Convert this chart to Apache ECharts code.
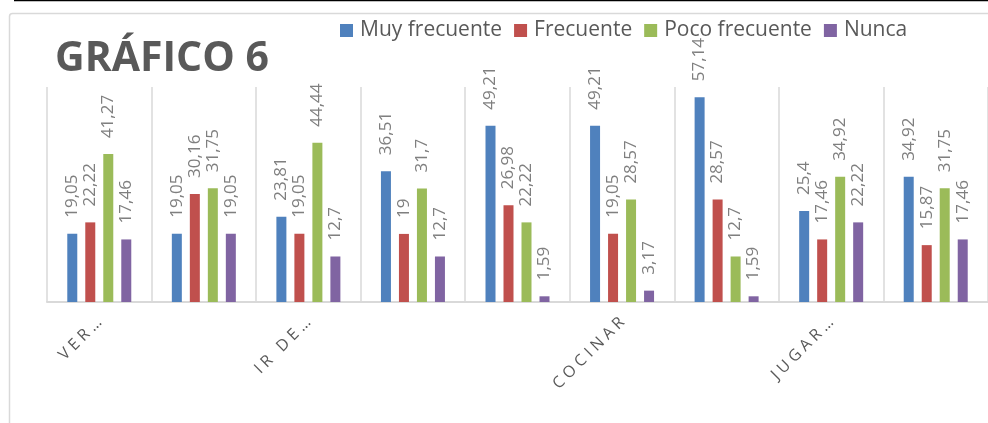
<!DOCTYPE html>
<html>
<head>
<meta charset="utf-8">
<script src="https://cdn.jsdelivr.net/npm/echarts@6/dist/echarts.min.js"></script>
<style>
  html, body { margin: 0; padding: 0; background: #fff; }
  #chart { width: 988px; height: 423px; }
</style>
</head>
<body>
<div id="chart"></div>
<script>
// categorias (solo se leen algunas en el grafico)
const categories = ['VER…', '', 'IR DE…', '', '', 'COCINAR', '', 'JUGAR…', '']
const seriesNames = ['Muy frecuente', 'Frecuente', 'Poco frecuente', 'Nunca']
const muyFrecuente = [19.05, 19.05, 23.81, 36.51, 49.21, 49.21, 57.14, 25.4, 34.92]
const frecuente = [22.22, 30.16, 19.05, 19, 26.98, 19.05, 28.57, 17.46, 15.87]
const pocoFrecuente = [41.27, 31.75, 44.44, 31.7, 22.22, 28.57, 12.7, 34.92, 31.75]
const nunca = [17.46, 19.05, 12.7, 12.7, 1.59, 3.17, 1.59, 22.22, 17.46]

const colors = ['#4f81bd', '#c0504d', '#9bbb59', '#8064a2']
const font = '"Open Sans", "DejaVu Sans", sans-serif'

function makeSeries(name, data) {
  return {
    name: name,
    type: 'bar',
    data: data,
    barWidth: 10,
    barGap: '80%',
    label: {
      show: true,
      position: 'top',
      rotate: 90,
      align: 'left',
      verticalAlign: 'middle',
      distance: 16,
      color: '#7f7f7f',
      fontFamily: font,
      fontSize: 17,
      formatter: (p) => String(p.value).replace('.', ',')
    }
  }
}

const chart = echarts.init(document.getElementById('chart'))
chart.setOption({
  animation: false,
  color: colors,
  title: {
    text: 'GRÁFICO 6',
    left: 50,
    top: 34,
    textStyle: {
      fontFamily: font,
      fontSize: 41,
      fontWeight: 'bold',
      color: '#595959'
    }
  },
  legend: {
    data: seriesNames,
    left: 335,
    top: 15,
    icon: 'rect',
    itemWidth: 13,
    itemHeight: 13,
    itemGap: 12,
    textStyle: {
      fontFamily: font,
      fontSize: 21,
      color: '#595959',
      padding: [0, 0, 0, 2]
    }
  },
  graphic: [
    {
      type: 'line',
      shape: { x1: 14, y1: 0.5, x2: 988, y2: 0.5 },
      style: { stroke: '#000', lineWidth: 1.5 }
    },
    {
      type: 'rect',
      shape: { x: 9.5, y: 13.5, width: 1000, height: 430, r: 3 },
      style: { fill: 'none', stroke: '#d9d9d9', lineWidth: 1.5 }
    }
  ],
  grid: {
    left: 47,
    top: 87,
    width: 945,
    height: 215
  },
  xAxis: {
    type: 'category',
    data: categories,
    axisLine: { lineStyle: { color: '#d9d9d9', width: 2 } },
    axisTick: { show: false },
    splitLine: { show: true, interval: 0, lineStyle: { color: '#d9d9d9', width: 1.5 } },
    axisLabel: {
      interval: 0,
      rotate: 45,
      margin: 18,
      color: '#595959',
      fontFamily: font,
      fontSize: 16,
      formatter: (v) => v.split('').join(' ')
    }
  },
  yAxis: {
    type: 'value',
    min: 0,
    max: 60,
    show: false
  },
  series: [
    makeSeries(seriesNames[0], muyFrecuente),
    makeSeries(seriesNames[1], frecuente),
    makeSeries(seriesNames[2], pocoFrecuente),
    makeSeries(seriesNames[3], nunca)
  ]
})
</script>
</body>
</html>
